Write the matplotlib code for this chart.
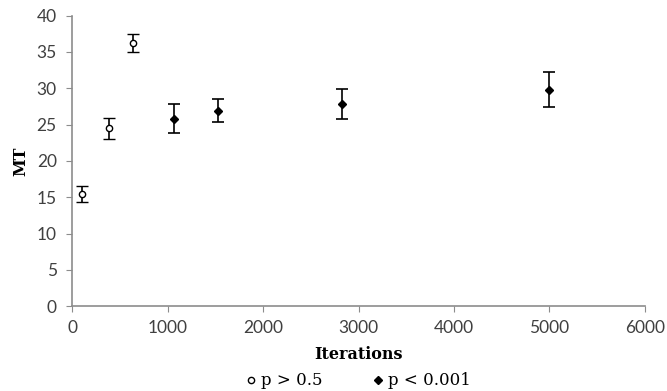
import matplotlib.pyplot as plt

# Data
iter_open = [100, 385, 640]
mt_open = [15.5, 24.5, 36.2]
err_open = [1.1, 1.45, 1.25]

iter_filled = [1070, 1530, 2830, 5000]
mt_filled = [25.8, 26.9, 27.8, 29.8]
err_filled = [2.0, 1.6, 2.1, 2.4]

x_ticks = [0, 1000, 2000, 3000, 4000, 5000, 6000]
y_ticks = [0, 5, 10, 15, 20, 25, 30, 35, 40]

fig = plt.figure(figsize=(6.67, 3.91), dpi=100)
ax = fig.add_axes([0.108, 0.217, 0.859, 0.743])

ax.errorbar(iter_open, mt_open, yerr=err_open, fmt='o', ms=4.5, mfc='white',
            mec='black', mew=1.0, ecolor='black', elinewidth=1.2, capsize=4.5,
            capthick=1.2, label='p > 0.5')
ax.errorbar(iter_filled, mt_filled, yerr=err_filled, fmt='D', ms=3.8, mfc='black',
            mec='black', ecolor='black', elinewidth=1.2, capsize=4.5,
            capthick=1.2, label='p < 0.001')

ax.set_xlim(0, 6000)
ax.set_ylim(0, 40)
ax.set_xticks(x_ticks)
ax.set_yticks(y_ticks)

for side in ['top', 'right']:
    ax.spines[side].set_visible(False)
for side in ['left', 'bottom']:
    ax.spines[side].set_color('#8c8c8c')
    ax.spines[side].set_linewidth(1.2)
ax.tick_params(direction='out', length=4, color='#8c8c8c', labelcolor='#404040',
               labelsize=12.5)
ax.tick_params(axis='x', pad=6)
ax.tick_params(axis='y', pad=7)
for lab in ax.get_xticklabels() + ax.get_yticklabels():
    lab.set_family('Lato')

ax.set_xlabel('Iterations', family='DejaVu Serif', fontweight='bold',
              fontsize=11.5, labelpad=7)
ax.set_ylabel('MT', family='DejaVu Serif', fontweight='bold',
              fontsize=11.5, labelpad=5)

handles, labels = ax.get_legend_handles_labels()
handles = [h[0] for h in handles]
axc = (0.108 + 0.967) / 2
leg = fig.legend(handles, labels, loc='center', bbox_to_anchor=(axc, 0.026),
                 ncol=2, frameon=False, handlelength=0.6, handletextpad=0.3,
                 columnspacing=3.0, prop={'family': 'DejaVu Serif', 'size': 12})

fig.savefig('out.png', dpi=100)
